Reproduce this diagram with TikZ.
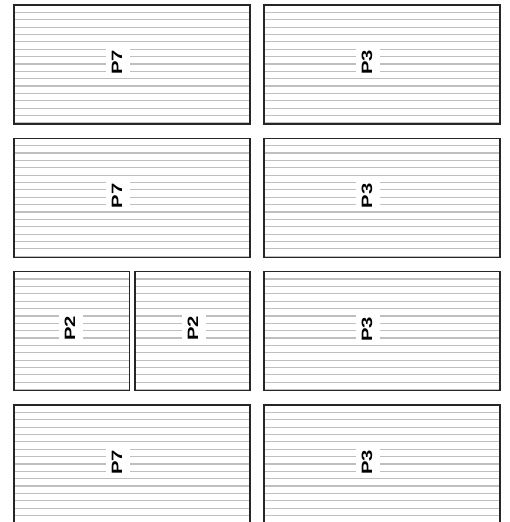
\documentclass[tikz,border=0pt]{standalone}
\usepackage{fontspec}
\setmainfont{Liberation Sans}
\usepackage{graphicx}
\usepackage{tikz}

\begin{document}
\begin{tikzpicture}[
  x=1pt, y=-1pt,
  frame/.style = {draw=black!85, line width=1.1pt},
  rule/.style  = {draw=black!25, line width=1.2pt},
  tag/.style   = {fill=white, rotate=90, inner xsep=3pt, inner ysep=6pt,
                  text depth=2pt, font=\fontsize{15}{15}\selectfont\bfseries}
]
\useasboundingbox (0,0) rectangle (509,522);
\clip (0,0) rectangle (509,522);

% full-width sheets: P7 on the left, P3 on the right
\foreach \row/\top in {a/5, b/138.3, d/405}{
  \foreach \k in {1,...,16}{
    \draw[rule] (14,\top+\k*7.37) -- (250,\top+\k*7.37);
    \draw[rule] (264,\top+\k*7.37) -- (500,\top+\k*7.37);
  }
  \draw[frame] (14,\top) rectangle (250,\top+119);
  \draw[frame] (264,\top) rectangle (500,\top+119);
  \node[tag] (p7\row) at (118,\top+57.5) {\scalebox{1.35}[1]{P7}};
  \node[tag] (p3\row) at (368,\top+57.5) {\scalebox{1.35}[1]{P3}};
}

% split row: two P2 sheets and one P3
\foreach \k in {1,...,16}{
  \draw[rule] (14,271.7+\k*7.37) -- (129.3,271.7+\k*7.37);
  \draw[rule] (135,271.7+\k*7.37) -- (250,271.7+\k*7.37);
  \draw[rule] (264,271.7+\k*7.37) -- (500,271.7+\k*7.37);
}
\draw[frame] (14,271.7) rectangle (129.3,390.7);
\draw[frame] (135,271.7) rectangle (250,390.7);
\draw[frame] (264,271.7) rectangle (500,390.7);
\node[tag] (p2l) at (71,328.5) {\scalebox{1.35}[1]{P2}};
\node[tag] (p2r) at (194,328.5) {\scalebox{1.35}[1]{P2}};
\node[tag] (p3c) at (368,329.2) {\scalebox{1.35}[1]{P3}};

\end{tikzpicture}
\end{document}
